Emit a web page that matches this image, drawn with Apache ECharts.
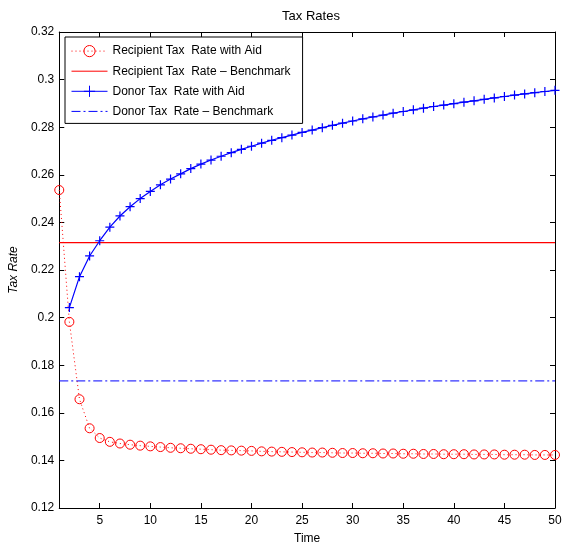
<!DOCTYPE html>
<html>
<head>
<meta charset="utf-8">
<script src="https://cdn.jsdelivr.net/npm/echarts@6/dist/echarts.min.js"></script>
<style>html,body{margin:0;padding:0;background:#fff}#c{width:568px;height:550px}</style>
</head>
<body>
<div id="c"></div>
<script>
var time = [];
for (var i = 1; i <= 50; i++) time.push(i);
var recipientWithAid = [0.2536,0.1982,0.1657,0.1535,0.1494,0.1478,0.1471,0.1466,0.1462,0.1459,
  0.1456,0.1453,0.1451,0.1449,0.1447,0.1445,0.1443,0.1442,0.1441,0.1440,
  0.1438,0.1437,0.1436,0.1435,0.1434,0.1433,0.1433,0.1432,0.1431,0.1431,
  0.1430,0.1430,0.1429,0.1429,0.1428,0.1428,0.1427,0.1427,0.1426,0.1426,
  0.1426,0.1425,0.1425,0.1425,0.1424,0.1424,0.1424,0.1423,0.1423,0.1423];
var donorWithAid = [null,0.2042,0.2172,0.2259,0.2323,0.2380,0.2427,0.2466,0.2500,0.2530,
  0.2558,0.2582,0.2604,0.2626,0.2645,0.2662,0.2678,0.2693,0.2707,0.2720,
  0.2733,0.2745,0.2756,0.2767,0.2778,0.2788,0.2798,0.2808,0.2817,0.2826,
  0.2835,0.2843,0.2851,0.2859,0.2866,0.2873,0.2880,0.2887,0.2893,0.2899,
  0.2905,0.2911,0.2917,0.2923,0.2929,0.2935,0.2940,0.2945,0.2950,0.2955];
var recipientBenchmark = 0.2315;
var donorBenchmark = 0.1734;
var xTicks = [5,10,15,20,25,30,35,40,45,50];
var seriesNames = ['Recipient Tax  Rate with Aid','Recipient Tax  Rate \u2013 Benchmark','Donor Tax  Rate with Aid','Donor Tax  Rate \u2013 Benchmark'];

function pairs(vals){ return time.map(function(t,i){ return [t, vals[i]]; }); }
function flat(v){ return [[time[0], v],[time[time.length-1], v]]; }

var RED = '#ff0000', BLUE = '#0000ff', CLEAR = 'rgba(0,0,0,0)';
var DASHDOT = [9,3,2,3];
var DOTTED = [1,3];
var PLUS = 'path://M0,5 L10,5 M5,0 L5,10';
var font = 'Liberation Sans, Arial, sans-serif';
var chart = echarts.init(document.getElementById('c'));
var xBase = {
  type:'value', min:1, max:50, splitLine:{show:false},
  axisLine:{show:true, onZero:false, lineStyle:{color:'#000', width:1}},
  axisTick:{show:true, inside:true, length:5, customValues:xTicks, lineStyle:{color:'#000'}}
};
var yBase = {
  type:'value', min:0.12, max:0.32, interval:0.02, splitLine:{show:false},
  axisLine:{show:true, onZero:false, lineStyle:{color:'#000', width:1}},
  axisTick:{show:true, inside:true, length:5, lineStyle:{color:'#000'}}
};
chart.setOption({
  animation:false,
  backgroundColor:'#fff',
  title:{text:'Tax Rates', left:306, textAlign:'center', top:5,
    textStyle:{fontFamily:font, fontSize:13, fontWeight:'normal', color:'#000'}},
  grid:{left:58, right:13, top:32, bottom:42},
  legend:{
    orient:'vertical', left:65, top:37, padding:[8,12,6,6], itemGap:8,
    itemWidth:36, itemHeight:14, backgroundColor:'#fff',
    borderColor:'#000', borderWidth:1, borderRadius:0,
    textStyle:{fontFamily:font, fontSize:12, color:'#000'},
    data:[
      {name:seriesNames[0], itemStyle:{color:CLEAR, borderColor:RED, borderWidth:1},
        lineStyle:{color:RED, width:1, type:DOTTED}},
      {name:seriesNames[1], itemStyle:{color:CLEAR, borderColor:CLEAR, borderWidth:0},
        lineStyle:{color:RED, width:1, type:'solid'}},
      {name:seriesNames[2], itemStyle:{color:CLEAR, borderColor:BLUE, borderWidth:1},
        lineStyle:{color:BLUE, width:1, type:'solid'}},
      {name:seriesNames[3], itemStyle:{color:CLEAR, borderColor:CLEAR, borderWidth:0},
        lineStyle:{color:BLUE, width:1, type:DASHDOT}}
    ]
  },
  xAxis:[
    Object.assign({}, xBase, {position:'bottom', name:'Time', nameLocation:'middle', nameGap:25,
      nameTextStyle:{fontFamily:font, fontSize:12, color:'#000'},
      axisLabel:{show:true, customValues:xTicks, margin:7, fontFamily:font, fontSize:12, color:'#000'}}),
    Object.assign({}, xBase, {position:'top', axisLabel:{show:false}})
  ],
  yAxis:[
    Object.assign({}, yBase, {position:'left', name:'Tax Rate', nameLocation:'middle', nameGap:38,
      nameTextStyle:{fontFamily:font, fontSize:12, fontStyle:'italic', color:'#000'},
      axisLabel:{show:true, margin:5, fontFamily:font, fontSize:12, color:'#000',
        formatter:function(v){ return String(parseFloat(v.toFixed(2))); }}}),
    Object.assign({}, yBase, {position:'right', axisLabel:{show:false}})
  ],
  series:[
    {name:seriesNames[0], type:'line', data:pairs(recipientWithAid),
      symbol:'circle', symbolSize:9, showAllSymbol:true,
      lineStyle:{color:RED, width:1, type:DOTTED},
      itemStyle:{color:CLEAR, borderColor:RED, borderWidth:1}, z:3},
    {name:seriesNames[1], type:'line', data:flat(recipientBenchmark), symbol:'none',
      lineStyle:{color:RED, width:1.2, type:'solid'}},
    {name:seriesNames[2], type:'line', data:pairs(donorWithAid), connectNulls:false,
      symbol:PLUS, symbolSize:9, showAllSymbol:true,
      lineStyle:{color:BLUE, width:1.2},
      itemStyle:{color:CLEAR, borderColor:BLUE, borderWidth:1.2}, z:4},
    {name:seriesNames[3], type:'line', data:flat(donorBenchmark), symbol:'none',
      lineStyle:{color:BLUE, width:1, type:DASHDOT}}
  ]
});
</script>
</body>
</html>
